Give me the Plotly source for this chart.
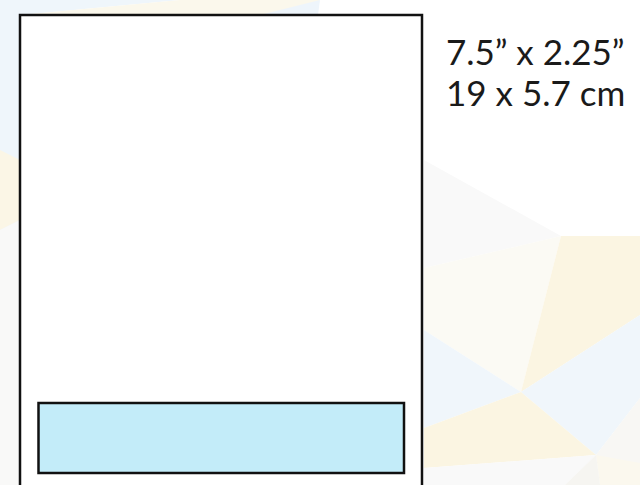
import plotly.graph_objects as go

# Diagram data (page outline + label area, in pixels of a 640x485 canvas)
size_lines = ["7.5\u201d x 2.25\u201d", "19 x 5.7 cm"]
page_x = [20, 422]
page_y = [15, 492]
label_x = [38.5, 404]
label_y = [403, 473]
label_fill = "#C3ECF9"

# faint background facets: (colour, list of vertices)
facets = [
    ("#EFF6FB", [(0, 0), (180, 0), (20, 15), (20, 250), (0, 260)]),
    ("#FBF8EC", [(180, 0), (320, 0), (300, 15), (20, 15)]),
    ("#EEF5FB", [(320, 0), (318, 15), (260, 15)]),
    ("#FBF6E6", [(0, 150), (20, 160), (20, 220), (0, 230)]),
    ("#F9F9F8", [(0, 230), (20, 220), (20, 485), (0, 485)]),
    ("#F9F9F9", [(424, 160), (561, 236), (424, 268)]),
    ("#FBFAF4", [(424, 268), (561, 236), (521, 392), (424, 330)]),
    ("#FBF5E2", [(561, 236), (640, 236), (640, 315), (521, 392)]),
    ("#F0F6FB", [(424, 330), (521, 392), (424, 428)]),
    ("#F0F6FB", [(640, 315), (640, 398), (596, 455), (521, 392)]),
    ("#FBF5E2", [(424, 428), (521, 392), (596, 455), (424, 468)]),
    ("#F8F7F4", [(640, 398), (640, 485), (600, 485), (596, 455)]),
    ("#FBF8EE", [(596, 455), (600, 485), (640, 485), (640, 463)]),
    ("#F9F9F9", [(424, 468), (596, 455), (565, 485), (424, 485)]),
    ("#F6F5F1", [(596, 455), (565, 485), (600, 485)]),
]

fig = go.Figure()
shapes = []
for col, pts in facets:
    path = "M " + " L ".join(f"{x},{y}" for x, y in pts) + " Z"
    shapes.append(dict(type="path", path=path, xref="x", yref="y",
                       fillcolor=col, line=dict(width=0), layer="below"))

shapes.append(dict(type="rect", xref="x", yref="y",
                   x0=page_x[0], x1=page_x[1], y0=page_y[0], y1=page_y[1],
                   fillcolor="white", line=dict(color="#111111", width=2.5)))
shapes.append(dict(type="rect", xref="x", yref="y",
                   x0=label_x[0], x1=label_x[1], y0=label_y[0], y1=label_y[1],
                   fillcolor=label_fill, line=dict(color="#111111", width=2.5)))

fig.add_trace(go.Scatter(x=[0, 640], y=[0, 485], mode="markers",
                         marker=dict(opacity=0), hoverinfo="skip", showlegend=False))

annotations = [
    dict(x=445, y=29 + i * 41, xref="x", yref="y", text=t, showarrow=False,
         xanchor="left", yanchor="top", borderpad=0,
         font=dict(family="Lato", size=35, color="#1a1a1a"))
    for i, t in enumerate(size_lines)
]

fig.update_layout(
    width=640, height=485,
    margin=dict(l=0, r=0, t=0, b=0),
    paper_bgcolor="white", plot_bgcolor="white",
    xaxis=dict(range=[0, 640], visible=False, fixedrange=True),
    yaxis=dict(range=[485, 0], visible=False, fixedrange=True),
    shapes=shapes, annotations=annotations, showlegend=False,
)
fig.write_html("out.html", config={"displayModeBar": False},
               post_script="document.body.style.margin='0';")
